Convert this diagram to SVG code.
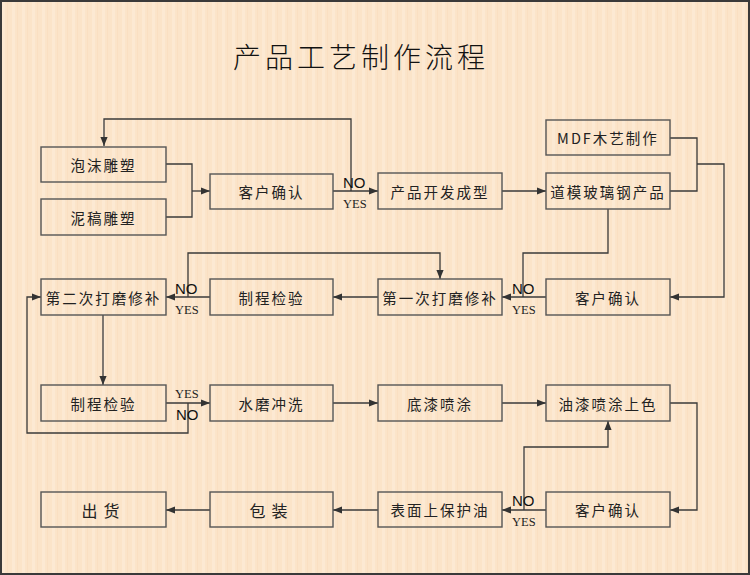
<svg xmlns="http://www.w3.org/2000/svg" width="750" height="575" viewBox="0 0 750 575">
<defs>
<pattern id="stripes" x="0" y="0" width="10" height="10" patternUnits="userSpaceOnUse">
<rect width="10" height="10" fill="#FBE4C9"/>
<rect x="2" width="3" height="10" fill="#FCE9D3"/>
<rect x="7" width="1" height="10" fill="#FADFC2"/>
</pattern>
<marker id="arr" viewBox="0 0 10 10" refX="10" refY="5" markerWidth="9" markerHeight="9" markerUnits="userSpaceOnUse" orient="auto">
<path d="M0,1 L10,5 L0,9 z" fill="#333"/>
</marker>
<style>
.box{fill:none;stroke:#555;stroke-width:1.4}
.t{font-family:"Noto Sans CJK SC","Liberation Serif",serif;font-size:14.5px;letter-spacing:2px;fill:#222;text-anchor:middle;dominant-baseline:central}
.title{font-family:"Noto Sans CJK SC",sans-serif;font-size:28px;font-weight:300;letter-spacing:4px;fill:#111}
.c{fill:none;stroke:#3a3a3a;stroke-width:1.3}
.ca{fill:none;stroke:#3a3a3a;stroke-width:1.3;marker-end:url(#arr)}
.no{font-family:"Liberation Sans",sans-serif;font-size:15px;fill:#111}
.yes{font-family:"Liberation Serif",serif;font-size:12.5px;fill:#222}
</style>
</defs>
<rect width="750" height="575" fill="url(#stripes)"/>
<rect x="1" y="1" width="748" height="573" fill="none" stroke="#3a3a3a" stroke-width="2"/>
<text class="title" x="233" y="68">产品工艺制作流程</text>

<g id="connectors">
<polyline class="c" points="166,164 192,164 192,217 166,217"/>
<line class="ca" x1="192" y1="191" x2="210" y2="191"/>
<line class="ca" x1="333" y1="191" x2="378" y2="191"/>
<polyline class="ca" points="351,191 351,119 104,119 104,146"/>
<line class="ca" x1="502" y1="191" x2="546" y2="191"/>
<polyline class="c" points="670,138 697,138 697,191 670,191"/>
<polyline class="ca" points="697,164 724,164 724,297 670,297"/>
<polyline class="c" points="608,209 608,253 523,253 523,297"/>
<line class="ca" x1="546" y1="297" x2="502" y2="297"/>
<line class="ca" x1="378" y1="297" x2="333" y2="297"/>
<line class="ca" x1="210" y1="297" x2="166" y2="297"/>
<polyline class="ca" points="188,297 188,253 440,253 440,279"/>
<line class="ca" x1="103" y1="315" x2="103" y2="385"/>
<line class="ca" x1="166" y1="403" x2="210" y2="403"/>
<polyline class="ca" points="188,403 188,433 27,433 27,297 41,297"/>
<line class="ca" x1="333" y1="403" x2="378" y2="403"/>
<line class="ca" x1="502" y1="403" x2="546" y2="403"/>
<polyline class="ca" points="670,403 697,403 697,510 670,510"/>
<line class="ca" x1="546" y1="510" x2="502" y2="510"/>
<polyline class="ca" points="524,510 524,447 608,447 608,421"/>
<line class="ca" x1="378" y1="510" x2="333" y2="510"/>
<line class="ca" x1="210" y1="510" x2="166" y2="510"/>
<text class="no" x="343" y="188">NO</text>
<text class="yes" x="343" y="208">YES</text>
<text class="no" x="512" y="294">NO</text>
<text class="yes" x="512" y="314">YES</text>
<text class="no" x="175" y="294">NO</text>
<text class="yes" x="175" y="314">YES</text>
<text class="yes" x="175" y="398">YES</text>
<text class="no" x="176" y="420">NO</text>
<text class="no" x="512" y="506">NO</text>
<text class="yes" x="512" y="526">YES</text>
</g>

<g id="n1"><rect class="box" x="41" y="147" width="125" height="35"/><text class="t" x="103.5" y="164.5">泡沫雕塑</text></g>
<g id="n2"><rect class="box" x="41" y="199" width="125" height="36"/><text class="t" x="103.5" y="217">泥稿雕塑</text></g>
<g id="n3"><rect class="box" x="210" y="174" width="123" height="35"/><text class="t" x="271.5" y="191.5">客户确认</text></g>
<g id="n4"><rect class="box" x="378" y="173" width="124" height="36"/><text class="t" x="440" y="191">产品开发成型</text></g>
<g id="n5"><rect class="box" x="546" y="120" width="124" height="35"/><text class="t" x="608" y="137.5">MDF木艺制作</text></g>
<g id="n6"><rect class="box" x="546" y="173" width="124" height="36"/><text class="t" x="608" y="191">道模玻璃钢产品</text></g>
<g id="n7"><rect class="box" x="546" y="279" width="124" height="36"/><text class="t" x="608" y="297">客户确认</text></g>
<g id="n8"><rect class="box" x="378" y="279" width="124" height="36"/><text class="t" x="440" y="297">第一次打磨修补</text></g>
<g id="n9"><rect class="box" x="210" y="279" width="123" height="36"/><text class="t" x="271.5" y="297">制程检验</text></g>
<g id="n10"><rect class="box" x="41" y="279" width="125" height="36"/><text class="t" x="103.5" y="297">第二次打磨修补</text></g>
<g id="n11"><rect class="box" x="41" y="385" width="125" height="36"/><text class="t" x="103.5" y="403">制程检验</text></g>
<g id="n12"><rect class="box" x="210" y="385" width="123" height="36"/><text class="t" x="271.5" y="403">水磨冲洗</text></g>
<g id="n13"><rect class="box" x="378" y="385" width="124" height="36"/><text class="t" x="440" y="403">底漆喷涂</text></g>
<g id="n14"><rect class="box" x="546" y="385" width="124" height="36"/><text class="t" x="608" y="403">油漆喷涂上色</text></g>
<g id="n15"><rect class="box" x="546" y="492" width="124" height="35"/><text class="t" x="608" y="509.5">客户确认</text></g>
<g id="n16"><rect class="box" x="378" y="492" width="124" height="35"/><text class="t" x="440" y="509.5">表面上保护油</text></g>
<g id="n17"><rect class="box" x="210" y="492" width="123" height="35"/><text class="t" x="271.5" y="509.5" style="font-size:16px;letter-spacing:6px">包装</text></g>
<g id="n18"><rect class="box" x="41" y="492" width="125" height="35"/><text class="t" x="103.5" y="509.5" style="font-size:16px;letter-spacing:6px">出货</text></g>
</svg>
